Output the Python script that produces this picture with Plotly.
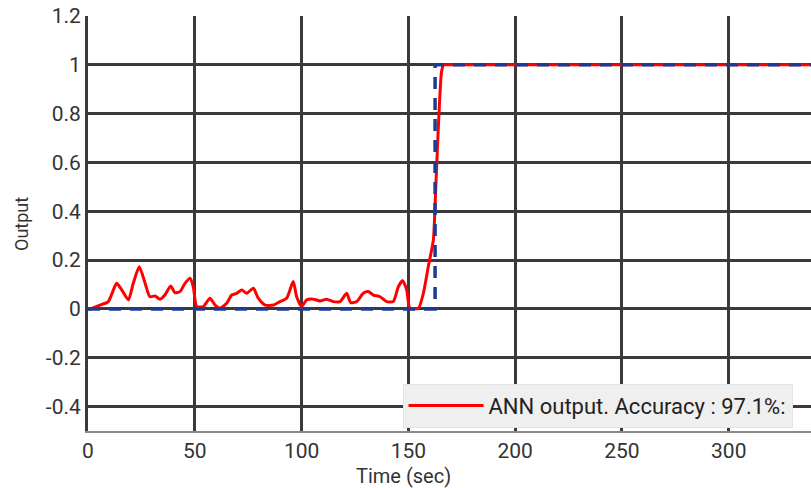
import plotly.graph_objects as go

# ANN output (red) samples
t_ann = [0, 0.9, 5.6, 9.5, 13.4, 15.8, 18.9, 21.2, 24.0, 26.7, 29.0, 31.4, 33.7, 36.0, 38.7,
         40.7, 43.1, 45.4, 47.8, 49.3, 50.9, 54.0, 57.1, 59.5, 61.8, 64.9, 67.3, 69.6,
         72.0, 74.3, 77.4, 79.7, 82.9, 86.8, 89.9, 93.0, 96.1, 97.7, 100.0, 102.4, 105.5,
         108.6, 111.7, 114.8, 118.0, 121.1, 123.0, 125.8, 128.9, 131.2, 133.6, 136.7,
         139.8, 142.9, 145.3, 147.3, 149.2, 150.7, 154.7, 157.0, 159.3, 161.7, 162.6,
         163.6, 164.6, 165.5, 166.5, 168.5, 200, 250, 300, 340]
y_ann = [0, 0, 0.016, 0.03, 0.105, 0.078, 0.037, 0.105, 0.173, 0.106, 0.05, 0.053, 0.04,
         0.057, 0.094, 0.067, 0.071, 0.105, 0.126, 0.09, 0.01, 0.01, 0.044, 0.016, 0.003,
         0.023, 0.057, 0.064, 0.078, 0.064, 0.085, 0.044, 0.016, 0.016, 0.03, 0.044,
         0.112, 0.05, 0.01, 0.037, 0.04, 0.033, 0.04, 0.03, 0.03, 0.064, 0.026, 0.03,
         0.064, 0.071, 0.057, 0.05, 0.03, 0.03, 0.091, 0.116, 0.078, 0.003, 0.003, 0.064,
         0.173, 0.283, 0.45, 0.66, 0.85, 0.97, 1.0, 1.0, 1.0, 1.0, 1.0, 1.0]

# Target (blue dashed)
t_target = [0, 162.5, 162.5, 340]
y_target = [0, 0, 1, 1]

x_ticks = [0, 50, 100, 150, 200, 250, 300]
y_ticks = [-0.4, -0.2, 0, 0.2, 0.4, 0.6, 0.8, 1, 1.2]
y_tick_text = ["-0.4", "-0.2", "0", "0.2", "0.4", "0.6", "0.8", "1", "1.2"]

fig = go.Figure()
fig.add_trace(go.Scatter(x=t_ann, y=y_ann, mode="lines",
                         line=dict(color="#ff0000", width=3, shape="spline", smoothing=0.6),
                         name="ANN output. Accuracy : 97.1%:"))
fig.add_trace(go.Scatter(x=t_target, y=y_target, mode="lines",
                         line=dict(color="#1f3a93", width=3.5, dash="12px,9px"),
                         name="Target", showlegend=False))

fig.update_layout(
    width=811, height=488,
    margin=dict(l=88, r=0, t=16, b=57),
    paper_bgcolor="white", plot_bgcolor="white",
    font=dict(family="Roboto", color="#333333", size=21),
    legend=dict(x=0.435, y=0.008, xanchor="left", yanchor="bottom",
                bgcolor="#efefef", bordercolor="#e2e2e2", borderwidth=1,
                font=dict(size=22, color="#222222"), itemwidth=75),
    xaxis=dict(range=[0, 338.5], tickvals=x_ticks, showgrid=True,
               gridcolor="#3a3a3a", gridwidth=3, zeroline=False,
               showline=True, linecolor="#8a8a8a", linewidth=1.5,
               ticks="", tickfont=dict(size=21), automargin=False),
    yaxis=dict(range=[-0.5, 1.2], tickvals=y_ticks, ticktext=y_tick_text,
               showgrid=True, gridcolor="#3a3a3a", gridwidth=3, zeroline=False,
               showline=True, linecolor="#3a3a3a", linewidth=3,
               ticks="", tickfont=dict(size=21), automargin=False),
    annotations=[
        dict(text="Time (sec)", xref="paper", yref="paper", x=0.437, y=-0.108,
             xanchor="center", yanchor="middle", showarrow=False,
             font=dict(size=20, color="#333333")),
        dict(text="Output", xref="paper", yref="paper", x=-0.092, y=0.5,
             xanchor="center", yanchor="middle", showarrow=False, textangle=-90,
             font=dict(size=18, color="#333333")),
    ],
)

fig.write_html("out.html", config={"displayModeBar": False},
               post_script="document.body.style.margin='0';")
